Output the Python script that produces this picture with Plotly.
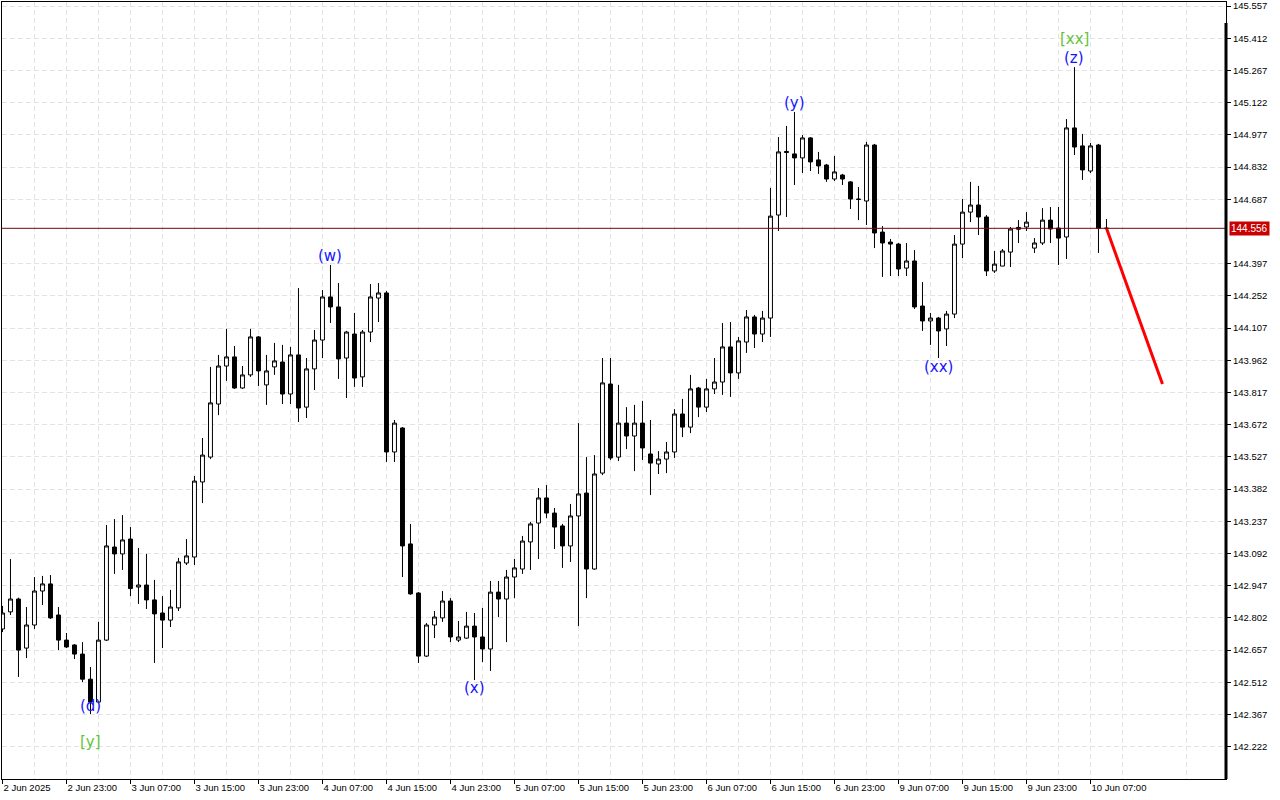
import plotly.graph_objects as go

# H1 candles, 2 Jun 2025 15:00 .. 10 Jun 09:00 (bar index = position on chart)
open_ = [
    142.752, 142.829, 142.887, 142.666, 142.770, 142.923, 142.955, 142.815, 142.702, 142.680,
    142.639, 142.526, 142.423, 142.702, 143.121, 143.090, 143.157, 142.941, 142.950, 142.883,
    142.824, 142.792, 142.847, 143.049, 143.076, 143.414, 143.526, 143.765, 143.936, 143.977,
    143.837, 143.896, 144.067, 143.851, 143.932, 143.954, 143.810, 143.986, 143.751, 143.923,
    144.053, 144.247, 144.202, 143.972, 144.080, 143.887, 144.089, 144.242, 144.265, 143.549,
    143.657, 143.135, 142.914, 142.630, 142.770, 142.802, 142.878, 142.702, 142.711, 142.765,
    142.716, 142.662, 142.918, 142.887, 142.986, 143.022, 143.144, 143.229, 143.342, 143.274,
    143.216, 143.126, 143.261, 143.364, 143.022, 143.454, 143.855, 143.526, 143.679, 143.621,
    143.679, 143.540, 143.495, 143.517, 143.549, 143.720, 143.661, 143.837, 143.751, 143.833,
    143.864, 144.022, 143.905, 144.044, 144.157, 144.080, 144.152, 144.616, 144.902, 144.891,
    144.873, 144.963, 144.864, 144.841, 144.778, 144.796, 144.765, 144.688, 144.679, 144.931,
    144.539, 144.494, 144.485, 144.377, 144.409, 144.206, 144.139, 144.152, 144.103, 144.170,
    144.485, 144.629, 144.661, 144.607, 144.364, 144.386, 144.449, 144.560, 144.562, 144.467,
    144.490, 144.593, 144.557, 144.517, 145.008, 144.927, 144.814, 144.931, 144.556,
]
high = [
    142.856, 143.067, 142.893, 142.851, 142.986, 142.991, 142.995, 142.851, 142.734, 142.684,
    142.693, 142.581, 142.784, 143.220, 143.247, 143.265, 143.211, 143.117, 143.090, 142.973,
    142.900, 142.928, 143.072, 143.157, 143.441, 143.612, 143.932, 143.986, 144.103, 144.026,
    143.936, 144.103, 144.071, 143.986, 144.040, 144.031, 144.022, 144.287, 143.972, 144.098,
    144.278, 144.391, 144.310, 144.094, 144.175, 144.098, 144.305, 144.310, 144.274, 143.693,
    143.661, 143.225, 142.918, 142.779, 142.833, 142.923, 142.891, 142.788, 142.829, 142.824,
    142.847, 142.968, 142.968, 143.018, 143.067, 143.171, 143.234, 143.387, 143.400, 143.297,
    143.225, 143.315, 143.679, 143.526, 143.535, 143.972, 143.972, 143.851, 143.751, 143.761,
    143.779, 143.693, 143.553, 143.594, 143.742, 143.788, 143.896, 143.842, 143.878, 143.972,
    144.130, 144.134, 144.067, 144.188, 144.166, 144.184, 144.738, 144.967, 145.017, 145.080,
    144.976, 144.967, 144.900, 144.846, 144.882, 144.801, 144.769, 144.742, 144.945, 144.936,
    144.566, 144.508, 144.490, 144.490, 144.458, 144.314, 144.175, 144.157, 144.184, 144.526,
    144.688, 144.765, 144.747, 144.616, 144.454, 144.463, 144.562, 144.593, 144.629, 144.512,
    144.647, 144.652, 144.652, 145.048, 145.282, 144.981, 144.940, 144.936, 144.598,
]
low = [
    142.738, 142.815, 142.536, 142.621, 142.752, 142.860, 142.797, 142.657, 142.666, 142.617,
    142.513, 142.369, 142.418, 142.698, 143.000, 143.018, 142.900, 142.865, 142.842, 142.599,
    142.666, 142.761, 142.833, 143.040, 143.040, 143.319, 143.517, 143.715, 143.869, 143.833,
    143.833, 143.887, 143.846, 143.761, 143.896, 143.765, 143.765, 143.684, 143.702, 143.828,
    143.972, 144.130, 143.878, 143.792, 143.842, 143.842, 144.044, 144.134, 143.504, 143.504,
    142.986, 142.906, 142.599, 142.626, 142.711, 142.784, 142.693, 142.693, 142.708, 142.522,
    142.603, 142.563, 142.806, 142.693, 142.891, 143.000, 143.018, 143.067, 143.251, 143.112,
    143.027, 143.054, 142.765, 142.891, 143.018, 143.445, 143.513, 143.508, 143.562, 143.463,
    143.513, 143.355, 143.450, 143.454, 143.522, 143.616, 143.634, 143.706, 143.729, 143.810,
    143.806, 143.797, 143.878, 143.995, 144.017, 144.044, 144.067, 144.544, 144.607, 144.751,
    144.805, 144.814, 144.801, 144.765, 144.769, 144.751, 144.643, 144.593, 144.571, 144.467,
    144.337, 144.341, 144.341, 144.341, 144.193, 144.094, 144.031, 143.972, 144.026, 144.152,
    144.422, 144.584, 144.526, 144.341, 144.355, 144.386, 144.382, 144.490, 144.544, 144.445,
    144.481, 144.490, 144.391, 144.418, 144.886, 144.774, 144.805, 144.445, 144.550,
]
close = [
    142.824, 142.887, 142.657, 142.770, 142.923, 142.955, 142.802, 142.702, 142.671, 142.639,
    142.526, 142.423, 142.702, 143.126, 143.090, 143.153, 142.934, 142.950, 142.883, 142.820,
    142.792, 142.851, 143.054, 143.081, 143.418, 143.535, 143.770, 143.936, 143.977, 143.837,
    143.896, 144.067, 143.914, 143.914, 143.959, 143.810, 143.986, 143.747, 143.923, 144.053,
    144.247, 144.202, 143.968, 144.089, 143.882, 144.089, 144.247, 144.265, 143.549, 143.679,
    143.126, 142.910, 142.630, 142.770, 142.806, 142.878, 142.716, 142.716, 142.765, 142.716,
    142.662, 142.918, 142.887, 142.986, 143.027, 143.148, 143.225, 143.342, 143.274, 143.211,
    143.126, 143.261, 143.360, 143.022, 143.450, 143.860, 143.522, 143.679, 143.621, 143.679,
    143.567, 143.499, 143.517, 143.549, 143.720, 143.661, 143.833, 143.751, 143.833, 143.864,
    144.022, 143.905, 144.049, 144.157, 144.080, 144.152, 144.611, 144.900, 144.898, 144.873,
    144.963, 144.855, 144.837, 144.778, 144.810, 144.778, 144.688, 144.686, 144.931, 144.535,
    144.490, 144.485, 144.373, 144.409, 144.202, 144.139, 144.152, 144.094, 144.170, 144.485,
    144.629, 144.661, 144.607, 144.364, 144.395, 144.454, 144.553, 144.552, 144.584, 144.490,
    144.593, 144.553, 144.512, 145.008, 144.922, 144.819, 144.927, 144.556, 144.556,
]

# every 8th bar gets a time label
time_labels = [
    '2 Jun 2025', '2 Jun 23:00', '3 Jun 07:00', '3 Jun 15:00', '3 Jun 23:00',
    '4 Jun 07:00', '4 Jun 15:00', '4 Jun 23:00', '5 Jun 07:00', '5 Jun 15:00',
    '5 Jun 23:00', '6 Jun 07:00', '6 Jun 15:00', '6 Jun 23:00', '9 Jun 07:00',
    '9 Jun 15:00', '9 Jun 23:00', '10 Jun 07:00',
]
price_ticks = [
    145.557, 145.412, 145.267, 145.122, 144.977, 144.832, 144.687, 144.397,
    144.252, 144.107, 143.962, 143.817, 143.672, 143.527, 143.382, 143.237,
    143.092, 142.947, 142.802, 142.657, 142.512, 142.367, 142.222,
]
last_price = 144.556

# wave marks: text, bar, price, colour
wave_text = ['(d)', '[y]', '(w)', '(x)', '(y)', '(xx)', '(z)', '[xx]']
wave_bar = [11, 11, 41, 59, 99, 117, 134, 134]
wave_price = [142.405, 142.244, 144.431, 142.486, 145.120, 143.932, 145.323, 145.408]
wave_color = ['blue', 'green', 'blue', 'blue', 'blue', 'blue', 'blue', 'green']

# projected move
forecast_bar = [138, 145]
forecast_price = [144.556, 143.855]

colors = {'blue': '#1414ff', 'green': '#62c43a'}
grid = '#e3e3e3'
tick_font = dict(family='Liberation Sans', size=9.5, color='black')

n = len(close)
bars = list(range(n))

fig = go.Figure()

fig.add_trace(go.Candlestick(
    x=bars, open=open_, high=high, low=low, close=close,
    increasing=dict(line=dict(color='black', width=1), fillcolor='white'),
    decreasing=dict(line=dict(color='black', width=1), fillcolor='black'),
    whiskerwidth=0,
    hoverinfo='skip',
    showlegend=False,
))

fig.add_trace(go.Scatter(
    x=forecast_bar, y=forecast_price, mode='lines',
    line=dict(color='#ff0000', width=3),
    hoverinfo='skip', showlegend=False,
))

# current price line
fig.add_hline(y=last_price, line=dict(color='#6e0a0a', width=1))

for text, b, p, c in zip(wave_text, wave_bar, wave_price, wave_color):
    fig.add_annotation(
        x=b, y=p, text=text, showarrow=False,
        xanchor='center', yanchor='middle',
        font=dict(family='DejaVu Sans', size=15, color=colors[c]),
    )

# price tag on the axis
fig.add_annotation(
    x=1, xref='paper', y=last_price, text=f'{last_price:.3f}', showarrow=False,
    xanchor='left', yanchor='middle', xshift=3,
    bgcolor='#c80000', borderpad=1,
    font=dict(family='Liberation Sans', size=10, color='white'),
)

# thick right axis (MT4 style)
fig.add_shape(type='line', xref='paper', yref='paper', x0=1, x1=1, y0=0, y1=0.973,
              line=dict(color='black', width=3))

fig.update_layout(
    width=1280, height=800,
    margin=dict(l=2, r=54, t=2, b=21, autoexpand=False),
    paper_bgcolor='white', plot_bgcolor='white',
    showlegend=False,
    xaxis=dict(
        range=[-0.06, 152.94],
        rangeslider=dict(visible=False),
        tickvals=list(range(0, 8 * len(time_labels), 8)),
        ticktext=time_labels,
        tickangle=0,
        ticklabelposition='outside right',
        ticks='outside', ticklen=4, tickcolor='black',
        tickfont=tick_font,
        showgrid=True, gridcolor=grid, griddash='5px,3px', gridwidth=1,
        minor=dict(tickvals=list(range(4, 153, 8)), showgrid=True,
                   gridcolor=grid, griddash='5px,3px', ticks=''),
        showline=True, linecolor='black', linewidth=1, mirror=True,
        zeroline=False, fixedrange=True, automargin=False,
    ),
    yaxis=dict(
        side='right',
        range=[142.0766, 145.575],
        tickvals=price_ticks,
        ticktext=[f'{v:.3f}' for v in price_ticks],
        ticks='outside', ticklen=4, tickcolor='black',
        tickfont=tick_font,
        showgrid=True, gridcolor=grid, griddash='5px,3px', gridwidth=1,
        showline=True, linecolor='black', linewidth=1, mirror=True,
        zeroline=False, fixedrange=True, automargin=False,
    ),
)

# drop the default page margin so the chart sits at the window's corner
fig.write_html('out.html', config={'displayModeBar': False},
               post_script="document.body.style.margin='0';")
